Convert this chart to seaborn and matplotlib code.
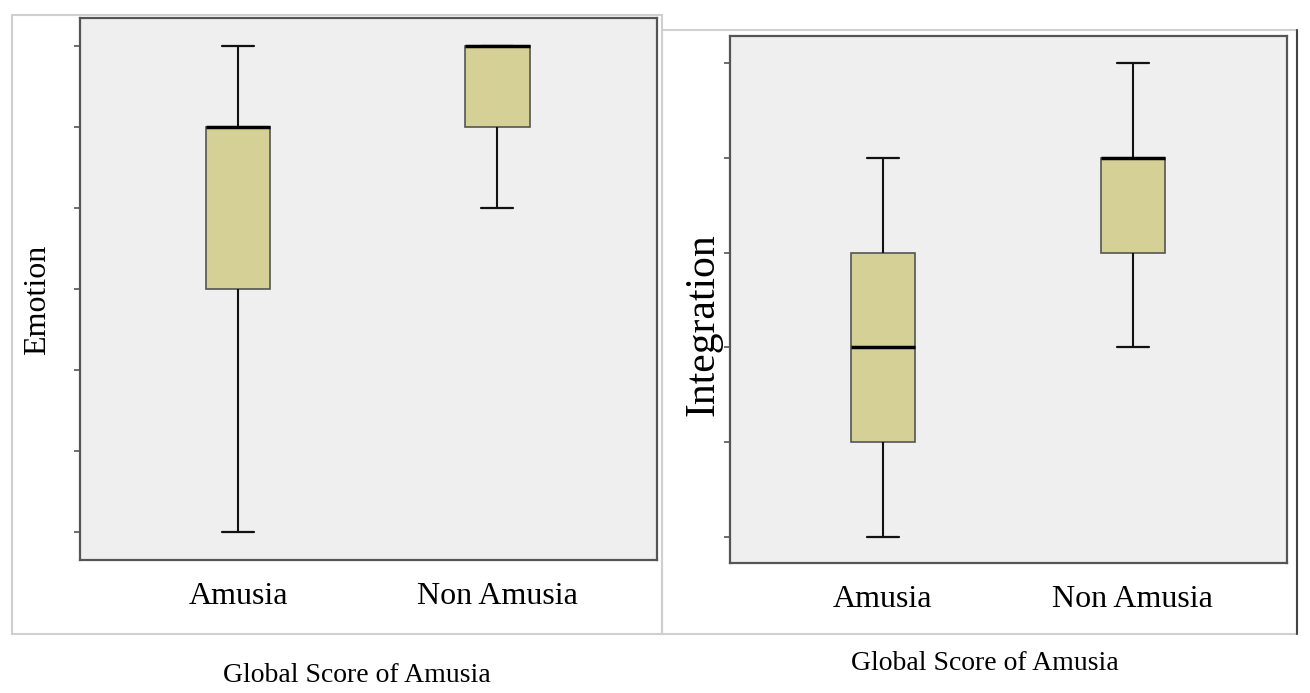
import pandas as pd
import matplotlib.pyplot as plt
from matplotlib.patches import Rectangle
import seaborn as sns

# values (no tick labels visible, so arbitrary units)
groups = ["Amusia", "Non Amusia"]
emotion_amusia = [1, 4, 6, 6, 7]
emotion_non = [5, 6, 7, 7, 7]
integration_amusia = [1, 2, 3, 4, 5]
integration_non = [3, 4, 5, 5, 6]

emotion = pd.DataFrame({
    "group": [groups[0]] * len(emotion_amusia) + [groups[1]] * len(emotion_non),
    "value": emotion_amusia + emotion_non,
})
integration = pd.DataFrame({
    "group": [groups[0]] * len(integration_amusia) + [groups[1]] * len(integration_non),
    "value": integration_amusia + integration_non,
})

sns.set_style("white")
plt.rcParams["font.family"] = ["Liberation Serif", "DejaVu Serif"]
plt.rcParams["text.color"] = "black"
plt.rcParams["xtick.color"] = "black"

fig = plt.figure(figsize=(13.1, 6.93), dpi=100)

# outer panel frames
fig.patches.append(Rectangle((12 / 1310, 1 - 634 / 693), 650 / 1310, 619 / 693,
                             transform=fig.transFigure, fill=False,
                             edgecolor="#cfcfcf", lw=1.5))
fig.patches.append(Rectangle((662 / 1310, 1 - 634 / 693), 635 / 1310, 604 / 693,
                             transform=fig.transFigure, fill=False,
                             edgecolor="#cfcfcf", lw=1.5))
fig.add_artist(plt.Line2D([1297 / 1310, 1297 / 1310], [1 - 634 / 693, 1 - 30 / 693],
                          transform=fig.transFigure, color="#444444", lw=1.5))

ax1 = fig.add_axes([80 / 1310, 1 - 560 / 693, 577 / 1310, 542 / 693])
ax2 = fig.add_axes([730 / 1310, 1 - 563 / 693, 557 / 1310, 527 / 693])

box_color = "#d5d096"
for ax, df, w in [(ax1, emotion, 0.25), (ax2, integration, 0.256)]:
    sns.boxplot(data=df, x="group", y="value", order=groups, ax=ax,
                color=box_color, width=w, linewidth=1.5, linecolor="#111111",
                showfliers=False, saturation=1,
                medianprops={"color": "black", "linewidth": 2.5},
                whiskerprops={"color": "#111111", "linewidth": 1.5},
                capprops={"color": "#111111", "linewidth": 1.6},
                boxprops={"edgecolor": "#555555", "linewidth": 1.2})
    ax.set_facecolor("#efefef")
    ax.set_xlim(-0.61, 1.617)
    for s in ax.spines.values():
        s.set_color("#555555")
        s.set_linewidth(1.6)
    ax.set_xlabel("")
    ax.set_ylabel("")
    ax.tick_params(axis="y", length=4, width=1.2, color="#555555", left=True)
    ax.tick_params(axis="x", length=0, labelsize=23, pad=16, labelcolor="black")

ax1.set_ylim(0.655, 7.345)
ax1.set_yticks([1, 2, 3, 4, 5, 6, 7])
ax1.set_yticklabels([])
ax2.set_ylim(0.725, 6.285)
ax2.set_yticks([1, 2, 3, 4, 5, 6])
ax2.set_yticklabels([])

fig.text(38 / 1310, 1 - 300 / 693, "Emotion", rotation=90, fontsize=23,
         ha="center", va="center")
fig.text(703 / 1310, 1 - 325 / 693, "Integration", rotation=90, fontsize=30,
         ha="center", va="center")
fig.text(357 / 1310, 1 - 675 / 693, "Global Score of Amusia", fontsize=20,
         ha="center", va="center")
fig.text(985 / 1310, 1 - 663 / 693, "Global Score of Amusia", fontsize=20,
         ha="center", va="center")

fig.savefig("out.png", dpi=100)
